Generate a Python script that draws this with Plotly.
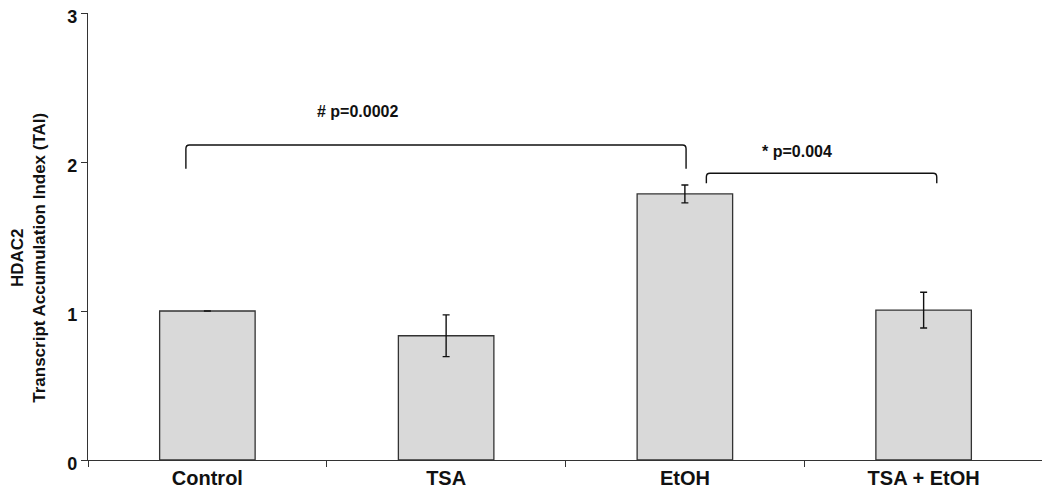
import plotly.graph_objects as go

# HDAC2 transcript accumulation per treatment
categories = ["Control", "TSA", "EtOH", "TSA + EtOH"]
tai_mean = [1.0, 0.834, 1.786, 1.006]
tai_err = [0.0, 0.14, 0.06, 0.12]
y_ticks = [0, 1, 2, 3]

# significance brackets: (left, right, top, foot) in axis units
bracket_left = [-0.09, 2.09]
bracket_right = [2.005, 3.055]
bracket_top = [2.114, 1.924]
bracket_foot = [1.955, 1.857]
p_labels = ["# p=0.0002", "* p=0.004"]
p_label_x = [0.63, 2.47]
p_label_y = [2.338, 2.069]

FONT = "Liberation Sans, Arial, sans-serif"
AXIS_COL = "#333333"

fig = go.Figure()
fig.add_trace(go.Bar(
    x=categories,
    y=tai_mean,
    width=0.4,
    marker=dict(color="#d9d9d9", line=dict(color=AXIS_COL, width=1.3)),
    error_y=dict(type="data", array=tai_err, visible=True,
                 color="#111111", thickness=1.4, width=3.5),
    showlegend=False,
))

# brackets with slightly rounded corners
rx, ry = 0.015, 0.025
for x0, x1, yt, yb in zip(bracket_left, bracket_right, bracket_top, bracket_foot):
    path = (f"M {x0},{yb} L {x0},{yt - ry} Q {x0},{yt} {x0 + rx},{yt} "
            f"L {x1 - rx},{yt} Q {x1},{yt} {x1},{yt - ry} L {x1},{yb}")
    fig.add_shape(type="path", path=path, xref="x", yref="y",
                  line=dict(color="#111111", width=1.4))

for txt, xa, ya in zip(p_labels, p_label_x, p_label_y):
    fig.add_annotation(x=xa, y=ya, xref="x", yref="y", text=f"<b>{txt}</b>",
                       showarrow=False, font=dict(family=FONT, size=16, color="#111111"))

# y axis title as two centred lines
fig.add_annotation(
    x=-0.062, y=0.452, xref="paper", yref="paper", textangle=-90,
    xanchor="center", yanchor="middle",
    text="<b>HDAC2</b><br><b>Transcript Accumulation Index (TAI)</b>",
    showarrow=False, font=dict(family=FONT, size=17, color="#111111"),
)

# page body adds an 8px offset, so margins are trimmed to compensate
fig.update_layout(
    width=1050, height=504,
    margin=dict(l=80, r=15, t=5, b=52),
    plot_bgcolor="white", paper_bgcolor="white",
    font=dict(family=FONT, color="#111111"),
    bargap=0.6,
)
fig.update_xaxes(
    type="category", categoryorder="array", categoryarray=categories,
    range=[-0.5, 3.5], automargin=False,
    tickson="boundaries", ticks="outside", ticklen=6, tickcolor=AXIS_COL, tickwidth=1.3,
    showline=True, linecolor=AXIS_COL, linewidth=1.3,
    showgrid=False, zeroline=False,
    tickfont=dict(family=FONT, size=20, color="#111111"),
    tickvals=categories, ticktext=[f"<b>{c}</b>" for c in categories],
)
fig.update_yaxes(
    range=[0, 3], tickvals=y_ticks, ticktext=[f"<b>{v}</b>" for v in y_ticks],
    automargin=False, ticklabeloverflow="allow", ticklabelshift=4,
    ticks="outside", ticklen=6, tickcolor=AXIS_COL, tickwidth=1.3,
    showline=True, linecolor=AXIS_COL, linewidth=1.3,
    showgrid=False, zeroline=False,
    tickfont=dict(family=FONT, size=18, color="#111111"),
)

fig.write_html("out.html")
